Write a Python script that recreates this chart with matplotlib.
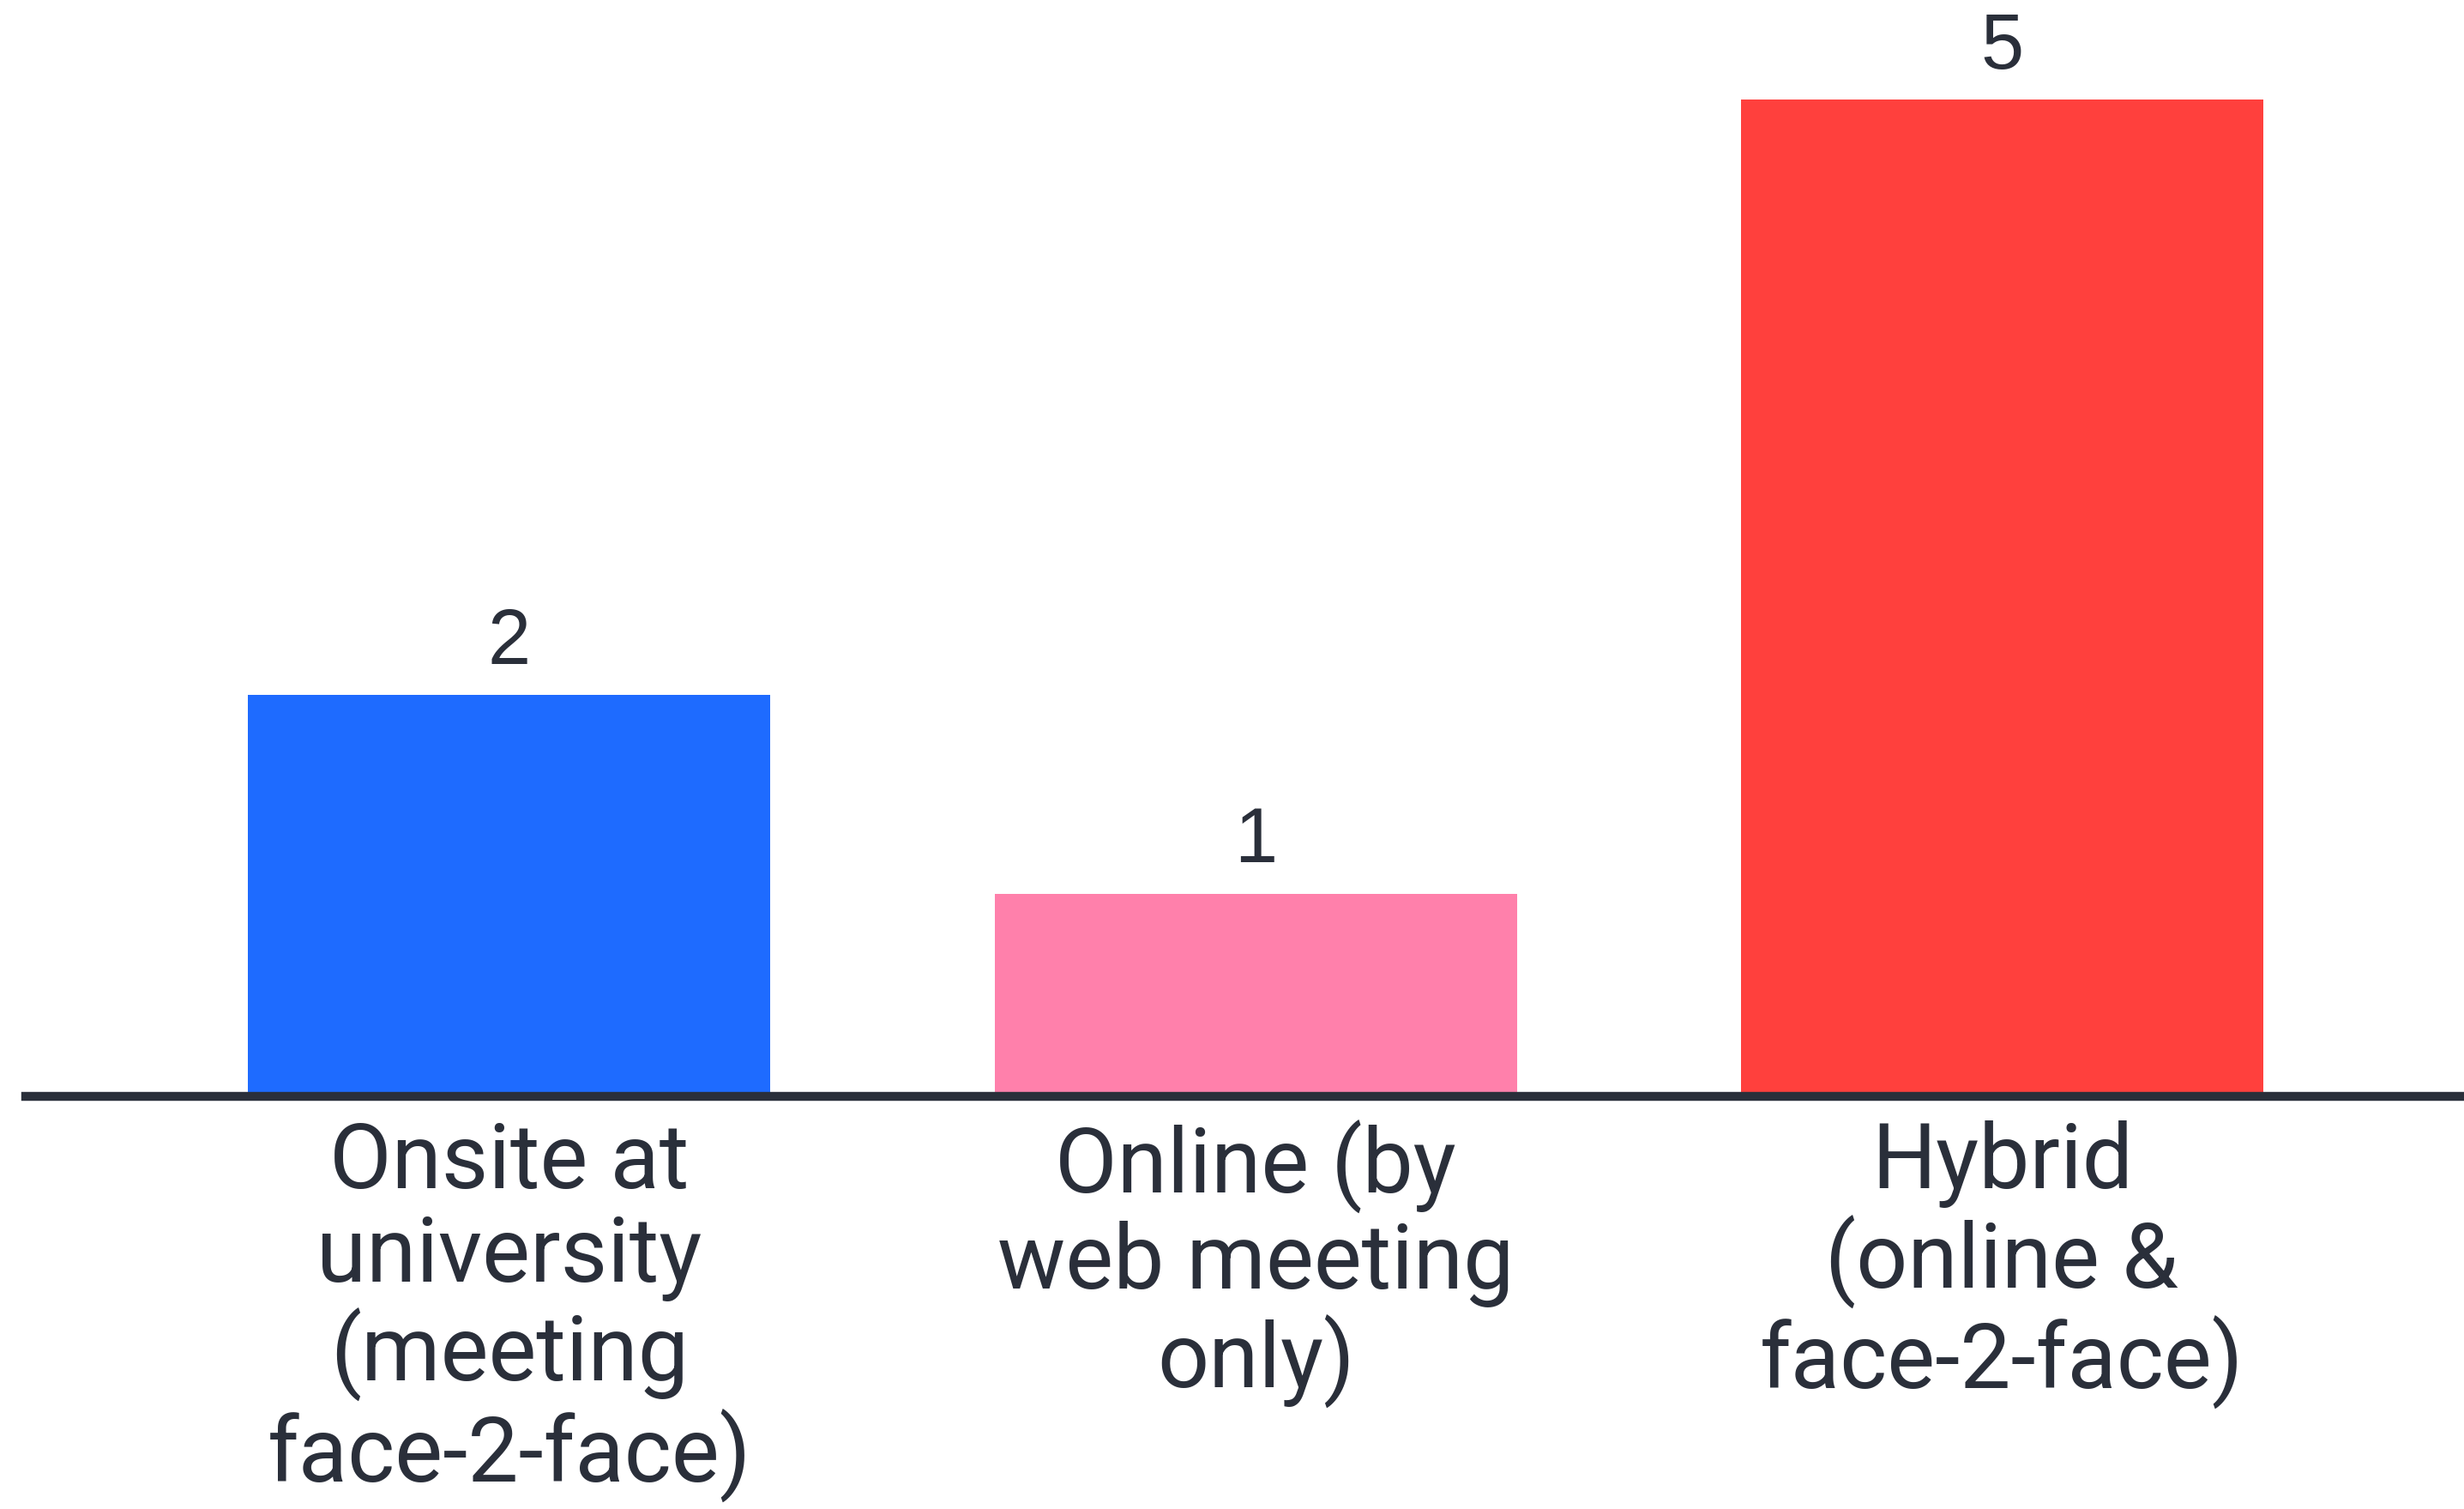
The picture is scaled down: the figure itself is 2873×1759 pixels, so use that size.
import matplotlib
matplotlib.use("Agg")
import matplotlib.pyplot as plt

categories = ["Onsite at\nuniversity\n(meeting\nface-2-face)",
              "Online (by\nweb meeting\nonly)",
              "Hybrid\n(online &\nface-2-face)"]
values = [2, 1, 5]
colors = ["#1E6BFF", "#FF80AB", "#FF403D"]
text_color = "#2A2F3A"

fig = plt.figure(figsize=(28.73, 17.59), dpi=100)
ax = fig.add_axes([30/2873, 1 - 1273/1759, 1 - 30/2873, 1273/1759])

x = list(range(len(values)))
bars = ax.bar(x, values, width=0.70, color=colors, zorder=2)
ax.set_xlim(-0.648, 2.619)
ax.set_ylim(0, 5.501)

for xi, v in zip(x, values):
    ax.annotate(str(v), xy=(xi, v), xytext=(0, 26), textcoords="offset points",
                ha="center", va="baseline", fontsize=65,
                family="Liberation Sans", color=text_color)

for s in ["top", "left", "right"]:
    ax.spines[s].set_visible(False)
ax.spines["bottom"].set_linewidth(7.5)
ax.spines["bottom"].set_color(text_color)
ax.spines["bottom"].set_position(("outward", 3.6))
ax.set_yticks([])
ax.set_xticks(x)
ax.set_xticklabels(categories, fontsize=76, family="Roboto", color=text_color,
                   linespacing=1.10)
ax.tick_params(axis="x", length=0, pad=20)

fig.savefig("out.png", dpi=100, facecolor="white")
